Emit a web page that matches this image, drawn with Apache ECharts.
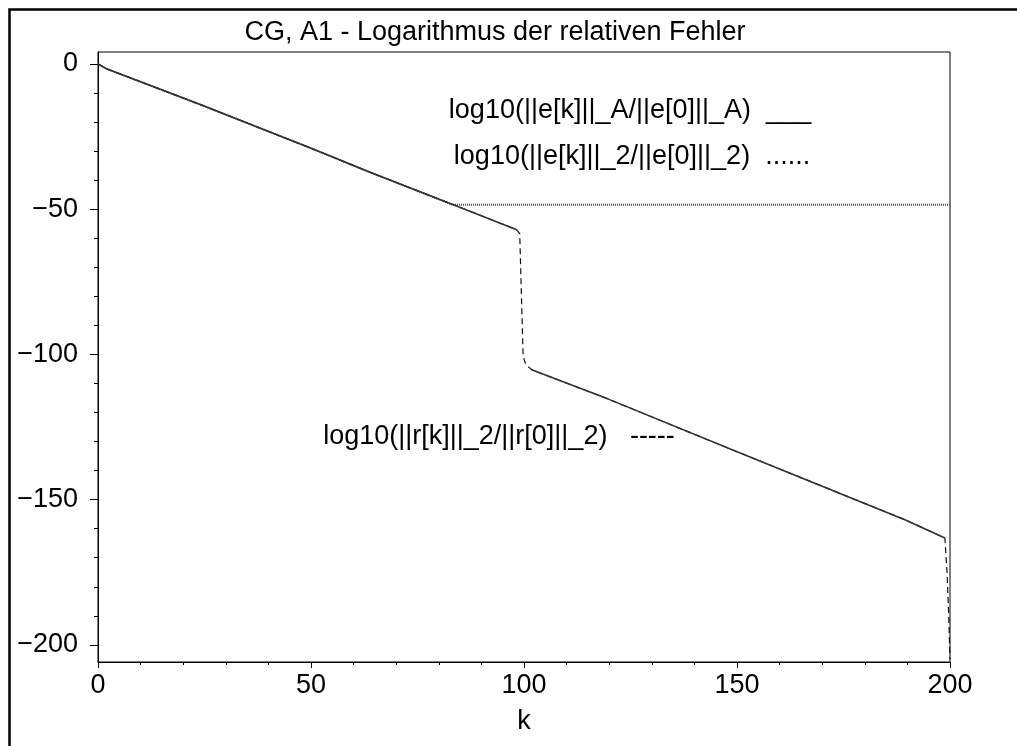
<!DOCTYPE html>
<html>
<head>
<meta charset="utf-8">
<script src="https://cdn.jsdelivr.net/npm/echarts@6/dist/echarts.min.js"></script>
<style>html,body{margin:0;padding:0;background:#fff;}#c{width:1017px;height:746px;}</style>
</head>
<body>
<div id="c"></div>
<script>
// ---- data ----
const titleText = 'CG, A1 - Logarithmus der relativen Fehler';
const xLabel = 'k';
const legendA = 'log10(||e[k]||_A/||e[0]||_A)  ___';
const legend2 = 'log10(||e[k]||_2/||e[0]||_2)  ......';
const legendR = 'log10(||r[k]||_2/||r[0]||_2)   -----';

const xTicks = [0, 50, 100, 150, 200];
const yTicks = [-200, -150, -100, -50, 0];
const yMinorTicks = [-200,-190,-180,-170,-160,-150,-140,-130,-120,-110,-100,-90,-80,-70,-60,-50,-40,-30,-20,-10,0];

// residual (dashed), full run
const kR = [0, 2, 24, 50, 64, 84, 98.3, 99, 99.4, 99.8, 100.4, 101.8, 119.8, 150, 189.4, 198.8, 199.3, 199.7, 200];
const vR = [0, -1.7, -14.0, -29, -37.4, -48.8, -57.1, -58.4, -80, -100.7, -103.4, -105.3, -115.4, -133.5, -156.9, -163.2, -175, -190, -205];

// A-norm error (solid), gap across the jump
const kA = [0, 2, 24, 50, 64, 84, 98.3, null, 101.8, 119.8, 150, 189.4, 198.8];
const vA = [0, -1.7, -14.0, -29, -37.4, -48.8, -57.1, null, -105.3, -115.4, -133.5, -156.9, -163.2];

// 2-norm error (dotted), stagnates
const k2 = [0, 2, 24, 50, 64, 83.3, 200];
const v2 = [0, -1.7, -14.0, -29, -37.4, -48.5, -48.5];

const pairs = (ks, vs) => ks.map((k, i) => (k === null ? [null, null] : [k, vs[i]]));

const chart = echarts.init(document.getElementById('c'), null, {renderer: 'canvas'});
const font = 'Liberation Sans, Arial, sans-serif';
const FS = 27;
const YMIN = -205.9, YMAX = 4.1;
const option = {
  backgroundColor: '#fff',
  animation: false,
  grid: {left: 98, right: 67, top: 52, bottom: 84, show: true, borderColor: '#000', borderWidth: 1, backgroundColor: 'transparent'},
  xAxis: [{
    type: 'value', min: 0, max: 200, interval: 50, position: 'bottom',
    axisLine: {show: true, onZero: false, lineStyle: {color: '#000', width: 1}},
    axisTick: {show: true, length: 6, inside: false, lineStyle: {color: '#000'}},
    minorTick: {show: true, splitNumber: 5, length: 3, lineStyle: {color: '#000'}},
    splitLine: {show: false},
    minorSplitLine: {show: false},
    axisLabel: {color: '#000', fontSize: FS, fontFamily: font, margin: 10},
    name: xLabel, nameLocation: 'middle', nameGap: 46,
    nameTextStyle: {color: '#000', fontSize: FS, fontFamily: font}
  }],
  yAxis: [{
    type: 'value', min: YMIN, max: YMAX,
    axisLine: {show: true, onZero: false, lineStyle: {color: '#000', width: 1}},
    axisTick: {show: true, length: 8, customValues: yTicks, lineStyle: {color: '#000'}},
    splitLine: {show: false},
    axisLabel: {color: '#000', fontSize: FS, fontFamily: font, margin: 20, customValues: yTicks,
      formatter: v => (v < 0 ? '\u2212' + Math.abs(v) : String(v))}
  }, {
    type: 'value', min: YMIN, max: YMAX, position: 'left',
    axisLine: {show: false, onZero: false},
    axisTick: {show: true, length: 4, customValues: yMinorTicks, lineStyle: {color: '#000'}},
    splitLine: {show: false},
    axisLabel: {show: false}
  }],
  series: [
    {type: 'line', name: 'e2', data: pairs(k2, v2), showSymbol: false, symbol: 'none',
     lineStyle: {color: '#444', width: 2, type: [1, 1]}, z: 2},
    {type: 'line', name: 'r', data: pairs(kR, vR), showSymbol: false, symbol: 'none',
     lineStyle: {color: '#111', width: 1.2, type: [6, 4]}, z: 3},
    {type: 'line', name: 'eA', data: pairs(kA, vA), showSymbol: false, symbol: 'none', connectNulls: false,
     lineStyle: {color: '#333', width: 1.6}, z: 4}
  ],
  graphic: [
    {type: 'rect', left: 7, top: 7, shape: {width: 1030, height: 760},
     style: {fill: 'none', stroke: '#000', lineWidth: 2.5}, z: 100},
    {type: 'text', x: 495, y: 33, style: {text: titleText, font: FS + 'px ' + font, fill: '#000', textAlign: 'center', textVerticalAlign: 'middle'}},
    {type: 'text', x: 630, y: 111, style: {text: legendA, font: FS + 'px ' + font, fill: '#000', textAlign: 'center', textVerticalAlign: 'middle'}},
    {type: 'text', x: 632, y: 157, style: {text: legend2, font: FS + 'px ' + font, fill: '#000', textAlign: 'center', textVerticalAlign: 'middle'}},
    {type: 'text', x: 499, y: 437, style: {text: legendR, font: FS + 'px ' + font, fill: '#000', textAlign: 'center', textVerticalAlign: 'middle'}}
  ]
};
chart.setOption(option);
</script>
</body>
</html>
